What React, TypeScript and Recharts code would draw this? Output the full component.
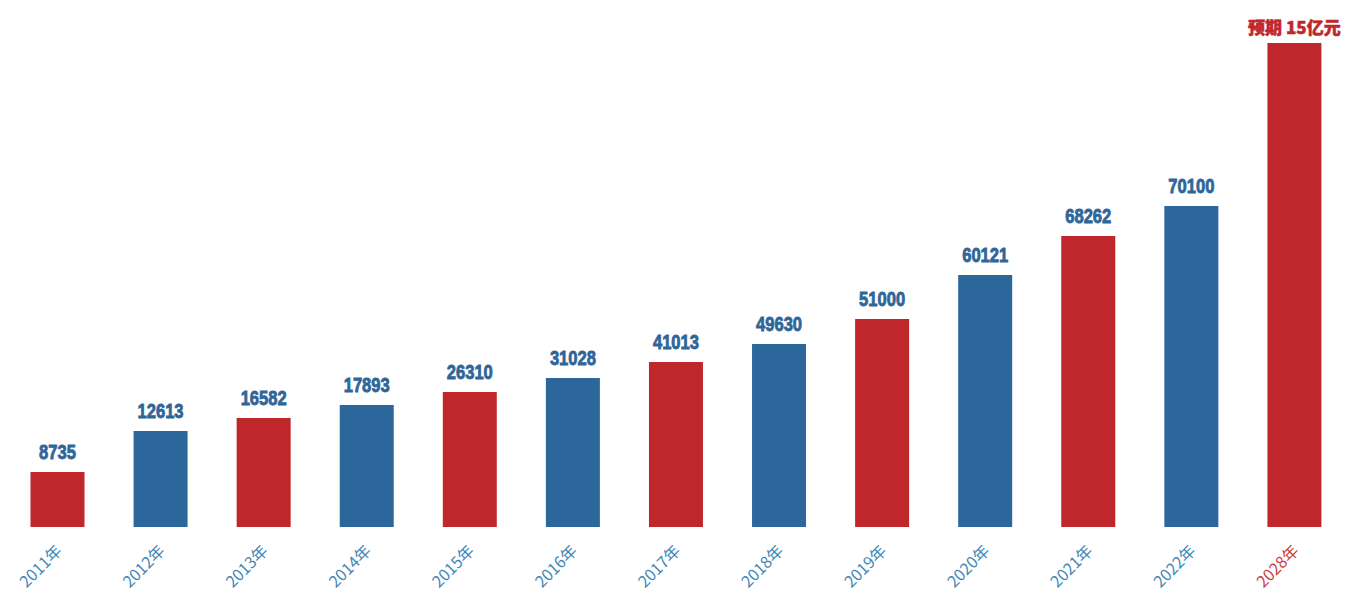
import React from "react";
import { BarChart, Bar, XAxis, YAxis, Cell, LabelList } from "recharts";

const years = ["2011年", "2012年", "2013年", "2014年", "2015年", "2016年", "2017年", "2018年", "2019年", "2020年", "2021年", "2022年", "2028年"];
// bar lengths as drawn in the picture (the chart uses a non-linear visual scale)
const barLengths = [55, 96, 109, 122, 135, 149, 165, 183, 208, 252, 291, 321, 484];
const valueLabels = ["8735", "12613", "16582", "17893", "26310", "31028", "41013", "49630", "51000", "60121", "68262", "70100", "预期 15亿元"];
const barColors = ["#c0272d", "#2b679b", "#c0272d", "#2b679b", "#c0272d", "#2b679b", "#c0272d", "#2b679b", "#c0272d", "#2b679b", "#c0272d", "#2b679b", "#c0272d"];
const tickColors = ["#3f87b6", "#3f87b6", "#3f87b6", "#3f87b6", "#3f87b6", "#3f87b6", "#3f87b6", "#3f87b6", "#3f87b6", "#3f87b6", "#3f87b6", "#3f87b6", "#c9403f"];

const data = years.map((y, i) => ({ year: y, len: barLengths[i], label: valueLabels[i] }));

const ValueLabel = (props: any) => {
  const { x, y, width, index } = props;
  const last = index === data.length - 1;
  const cx = x + width / 2;
  const text = data[index].label;
  if (last) {
    return (
      <text x={cx} y={y - 9} textAnchor="middle" fill="#c0272d" stroke="#c0272d" strokeWidth={0.5}
        style={{ fontFamily: "'Noto Sans CJK SC', sans-serif", fontWeight: 900, fontSize: 17 }}>
        {text}
      </text>
    );
  }
  const w = text.length * 9.2;
  return (
    <text x={cx - w / 2} y={y - 13} textLength={w} lengthAdjust="spacingAndGlyphs"
      fill="#2f6699" stroke="#2f6699" strokeWidth={0.8}
      style={{ fontFamily: "'Liberation Sans', sans-serif", fontWeight: 700, fontSize: 19.5 }}>
      {text}
    </text>
  );
};

const Tick = (props: any) => {
  const { x, y, payload, index } = props;
  const ax = x + 6;
  const ay = y + 17;
  return (
    <text x={ax} y={ay} transform={`rotate(-45, ${ax}, ${ay})`} textAnchor="end"
      fill={tickColors[index]}
      style={{ fontFamily: "'Noto Sans CJK SC', sans-serif", fontSize: 16 }}>
      {payload.value}
    </text>
  );
};

export default function App() {
  return (
    <div style={{ marginLeft: -8, marginTop: -8, width: 1367, height: 605, background: "#fff" }}>
      <BarChart width={1367} height={605} data={data}
        margin={{ top: 43, right: 21.5, bottom: 8, left: 5.5 }} barCategoryGap={49}>
        <XAxis dataKey="year" axisLine={false} tickLine={false} interval={0} height={70} tick={<Tick />} />
        <YAxis hide domain={[0, 484]} />
        <Bar dataKey="len" barSize={54} isAnimationActive={false}>
          {data.map((d, i) => (
            <Cell key={d.year} fill={barColors[i]} />
          ))}
          <LabelList dataKey="label" content={<ValueLabel />} />
        </Bar>
      </BarChart>
    </div>
  );
}
